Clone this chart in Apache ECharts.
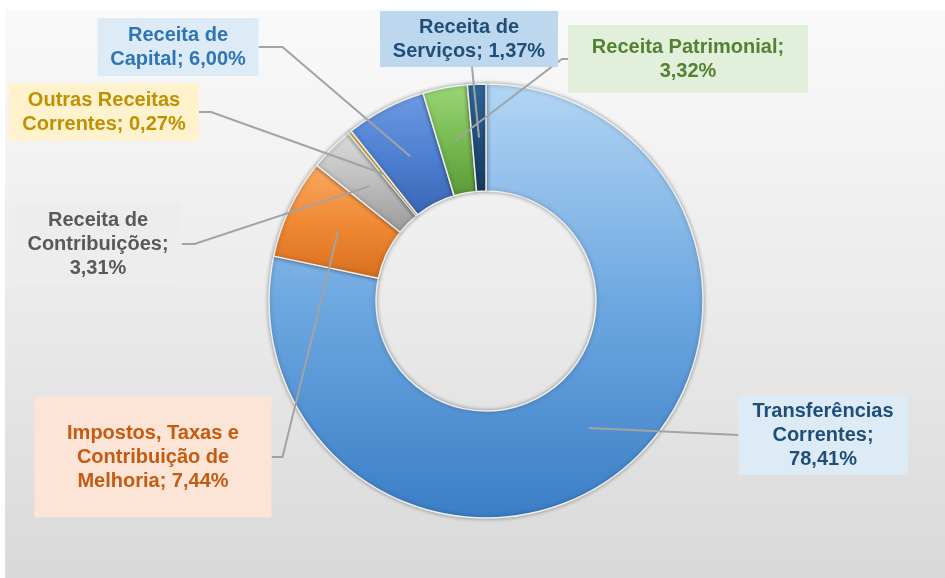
<!DOCTYPE html>
<html>
<head>
<meta charset="utf-8">
<script src="https://cdn.jsdelivr.net/npm/echarts@6/dist/echarts.min.js"></script>
<style>
  html, body { margin: 0; padding: 0; background: #fff; }
  #bg { position: absolute; left: 5px; top: 9px; width: 940px; height: 569px;
        background: linear-gradient(#fafafa, #ebebeb 50%, #d9d9d9); }
  #main { position: absolute; left: 0; top: 0; width: 945px; height: 578px; }
</style>
</head>
<body>
<div id="bg"></div>
<div id="main"></div>
<script>
// fatias, na ordem do gráfico (sentido horário a partir do topo)
var categories = ['Transferências Correntes', 'Impostos, Taxas e Contribuição de Melhoria',
  'Receita de Contribuições', 'Outras Receitas Correntes', 'Receita de Capital',
  'Receita Patrimonial', 'Receita de Serviços'];
var values = [78.41, 7.44, 3.31, 0.27, 6.00, 3.32, 1.37];
// texto dos rótulos com as quebras do original
var labelNames = ['Transferências\nCorrentes;\n', 'Impostos, Taxas e\nContribuição de\nMelhoria; ',
  'Receita de\nContribuições;\n', 'Outras Receitas\nCorrentes; ', 'Receita de\nCapital; ',
  'Receita Patrimonial;\n', 'Receita de\nServiços; '];

var cx = 486, cy = 301, r0 = 110, r1 = 217;

var sliceColors = [
  ['#b2d5f4', '#6ea8e1', '#3a7ec6'],
  ['#f9a962', '#f08a35', '#d96f1e'],
  ['#dcdcdc', '#bdbdbd', '#9a9a9a'],
  ['#ffd34d', '#ffc000', '#d9a300'],
  ['#6d9be3', '#4f80d2', '#3a66b3'],
  ['#9ad676', '#79bb52', '#5a9a38'],
  ['#2f6699', '#214f7c', '#163a5e']
];

// caixas dos rótulos: centro, tamanho, cores e lado de onde sai a linha
var boxes = [
  { x: 823, y: 435, w: 169, h: 80, bg: '#ddebf7', fg: '#1f4e79', side: 'left', elbow: 0 },
  { x: 153, y: 457, w: 237, h: 121, bg: '#fce4d6', fg: '#c55a11', side: 'right', elbow: 11 },
  { x: 98, y: 244, w: 167, h: 82, bg: '#ededed', fg: '#595959', side: 'right', elbow: 13 },
  { x: 104, y: 112, w: 190, h: 57, bg: '#fff2cc', fg: '#bf9000', side: 'right', elbow: 12 },
  { x: 178, y: 47, w: 161, h: 58, bg: '#ddebf7', fg: '#2e75b6', side: 'right', elbow: 24 },
  { x: 688, y: 59, w: 240, h: 68, bg: '#e2efda', fg: '#548235', side: 'left', elbow: 6 },
  { x: 469, y: 39, w: 178, h: 56, bg: '#bdd7ee', fg: '#1f4e79', side: 'bottom', elbow: 0 }
];

function pct(v) { return v.toFixed(2).replace('.', ',') + '%'; }

var sliceData = categories.map(function (name, i) {
  return {
    name: name,
    value: values[i],
    itemStyle: {
      color: {
        type: 'linear', x: 0, y: 0, x2: 0, y2: 1,
        colorStops: [
          { offset: 0, color: sliceColors[i][0] },
          { offset: 0.5, color: sliceColors[i][1] },
          { offset: 1, color: sliceColors[i][2] }
        ]
      }
    }
  };
});

var labelData = categories.map(function (name, i) {
  var b = boxes[i];
  var lines = labelNames[i].split('\n').length;
  return {
    name: name,
    value: values[i],
    label: {
      color: b.fg,
      backgroundColor: b.bg,
      width: b.w,
      padding: [(b.h - lines * 24) / 2, 0]
    }
  };
});

var chart = echarts.init(document.getElementById('main'));
chart.setOption({
  animation: false,
  series: [{
    // anel com as fatias
    type: 'pie',
    z: 2,
    center: [cx, cy],
    radius: [r0, r1],
    startAngle: 90,
    clockwise: true,
    silent: true,
    itemStyle: {
      borderColor: '#eeeeee',
      borderWidth: 1.5,
      shadowBlur: 4,
      shadowColor: 'rgba(0,0,0,0.35)'
    },
    label: { show: false },
    labelLine: { show: false },
    data: sliceData
  }, {
    // mesmo anel, transparente, só para rótulos e linhas por cima
    type: 'pie',
    z: 3,
    center: [cx, cy],
    radius: [r0, r1],
    startAngle: 90,
    clockwise: true,
    silent: true,
    avoidLabelOverlap: false,
    itemStyle: { color: 'rgba(0,0,0,0)', borderWidth: 0 },
    label: {
      show: true,
      position: 'outside',
      alignTo: 'none',
      overflow: 'none',
      fontFamily: 'Liberation Sans, Arial, sans-serif',
      fontWeight: 'bold',
      fontSize: 20,
      lineHeight: 24,
      align: 'center',
      formatter: function (p) { return labelNames[p.dataIndex] + pct(p.value); }
    },
    labelLine: {
      show: true,
      lineStyle: { color: '#a3a3a3', width: 2 }
    },
    labelLayout: function (p) {
      var b = boxes[p.dataIndex];
      var s = p.labelLinePoints[0];
      var k = (r0 + r1) / 2 / r1;
      var start = [cx + (s[0] - cx) * k, cy + (s[1] - cy) * k];
      var pts;
      if (b.side === 'right') {
        var ex = b.x + b.w / 2;
        pts = [start, [ex + b.elbow, b.y], [ex, b.y]];
      } else if (b.side === 'left') {
        var lx = b.x - b.w / 2;
        pts = [start, [lx - b.elbow, b.y], [lx, b.y]];
      } else {
        var by = b.y + b.h / 2;
        pts = [start, [b.x + 3, by]];
      }
      return { x: b.x, y: b.y, align: 'center', verticalAlign: 'middle', labelLinePoints: pts };
    },
    emphasis: { disabled: true },
    data: labelData
  }]
});
</script>
</body>
</html>
